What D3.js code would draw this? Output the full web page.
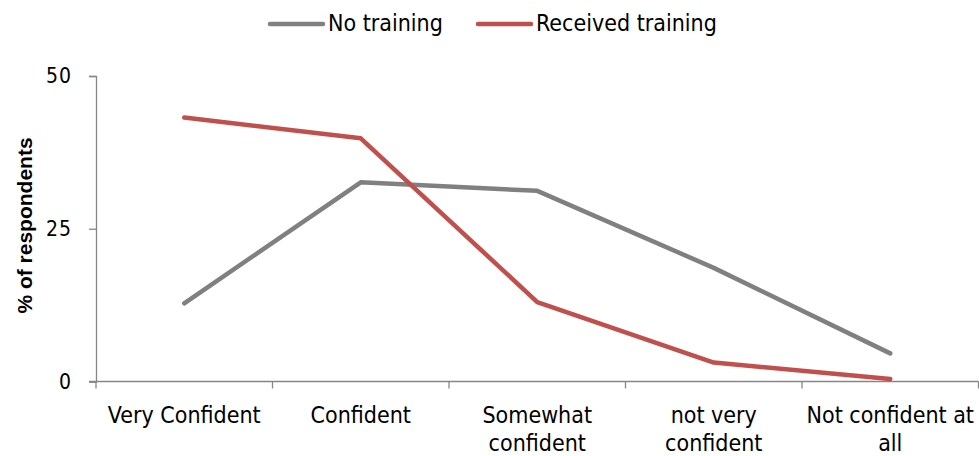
<!DOCTYPE html>
<html><head><meta charset="utf-8">
<script src="https://cdn.jsdelivr.net/npm/d3@7"></script>
<style>
body{margin:0;background:#fff;}
text{font-family:"DejaVu Sans Condensed","Liberation Sans Narrow",sans-serif;}
</style></head>
<body><svg id="c" width="979" height="456"></svg>
<script>
const categories = [["Very Confident"],["Confident"],["Somewhat","confident"],["not very","confident"],["Not confident at","all"]];
const noTraining = [12.8, 32.6, 31.2, 18.6, 4.6];
const receivedTraining = [43.2, 39.8, 13.0, 3.1, 0.4];
const yTicks = [0, 25, 50];
const seriesNames = ["No training", "Received training"];
const colors = ["#808080", "#C0504D"];

(function(){
const svg = d3.select("#c");
const mL = 96, mR = 978.5, mT = 76, mB = 381.5;
const x = d3.scaleBand().domain(d3.range(categories.length)).range([mL, mR]);
const y = d3.scaleLinear().domain([0, 50]).range([mB, mT]);
const axisColor = "#868686";
const ff = '"DejaVu Sans Condensed","Liberation Sans Narrow",sans-serif';

// y axis
const ya = svg.append("g").attr("transform", `translate(${mL},0)`)
  .call(d3.axisLeft(y).tickValues(yTicks).tickSize(7).tickPadding(17));
ya.select(".domain").attr("stroke", axisColor).attr("stroke-width", 1.3);
ya.selectAll(".tick line").attr("stroke", axisColor).attr("stroke-width", 1.3);
ya.selectAll(".tick text").attr("font-size", 21).attr("fill", "#000")
  .style("font-family", ff).attr("letter-spacing", 1);

// x axis
const xa = svg.append("g").attr("transform", `translate(0,${mB})`);
xa.append("line").attr("x1", mL - 7).attr("x2", mR).attr("y1", 0).attr("y2", 0)
  .attr("stroke", axisColor).attr("stroke-width", 1.3);
const bounds = d3.range(categories.length + 1).map(i => i < categories.length ? x(i) : x(categories.length - 1) + x.bandwidth());
xa.selectAll("line.tk").data(bounds).join("line").attr("class", "tk")
  .attr("x1", d => d).attr("x2", d => d).attr("y1", 0).attr("y2", 7)
  .attr("stroke", axisColor).attr("stroke-width", 1.3);
const lbl = xa.selectAll("text.lb").data(categories).join("text").attr("class", "lb")
  .attr("text-anchor", "middle").attr("font-size", 23).attr("fill", "#000");
lbl.each(function(d, i) {
  const t = d3.select(this);
  d.forEach((ln, j) => {
    t.append("tspan").attr("x", x(i) + x.bandwidth() / 2).attr("y", 41 + j * 28.5).text(ln);
  });
});

// y title
svg.append("text").attr("transform", `translate(32,225.5) rotate(-90)`)
  .attr("text-anchor", "middle").attr("font-size", 21).attr("font-weight", "bold")
  .style("font-family", '"Liberation Sans","DejaVu Sans",sans-serif')
  .text("% of respondents");

// lines
const line = d3.line().x((d, i) => x(i) + x.bandwidth() / 2).y(d => y(d));
[noTraining, receivedTraining].forEach((s, k) => {
  svg.append("path").datum(s).attr("d", line).attr("fill", "none")
    .attr("stroke", colors[k]).attr("stroke-width", 4.5).attr("stroke-linecap", "round")
    .attr("stroke-linejoin", "round");
});

// legend
const legX = [270, 478];
seriesNames.forEach((n, k) => {
  svg.append("line").attr("x1", legX[k]).attr("x2", legX[k] + 53).attr("y1", 24).attr("y2", 24)
    .attr("stroke", colors[k]).attr("stroke-width", 4.5).attr("stroke-linecap", "round");
  svg.append("text").attr("x", legX[k] + 58).attr("y", 31).attr("font-size", 23).attr("fill", "#000").text(n);
});
})();
</script></body></html>
